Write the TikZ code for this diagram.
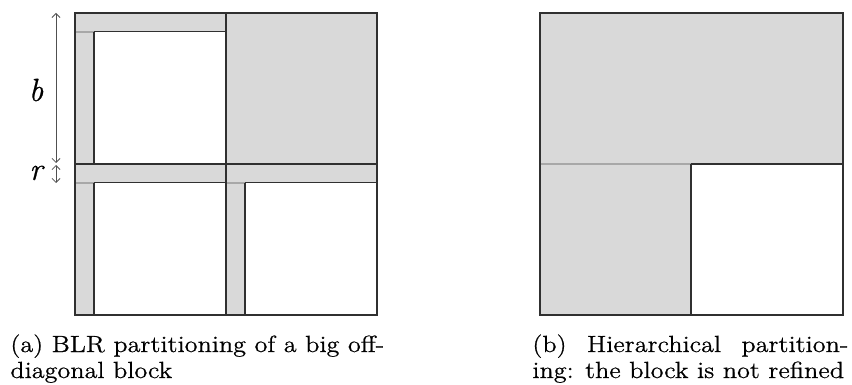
\documentclass[tikz,border=0pt]{standalone}
\usepackage{fontspec}
\setmainfont{Latin Modern Roman}[FakeStretch=1.12, FakeBold=0.6]
\newfontfamily\labelfont{Latin Modern Roman}[FakeBold=0.8]
\usetikzlibrary{arrows.meta}
\definecolor{blockgray}{HTML}{D9D9D9}
\definecolor{darkline}{HTML}{303030}
\definecolor{lightline}{HTML}{A8A8A8}
\definecolor{arrowcol}{HTML}{505050}
\tikzset{
  grayblock/.style={fill=blockgray, draw=darkline, line width=0.5pt},
  softline/.style={draw=lightline, line width=0.6pt},
  dimarrow/.style={draw=arrowcol, line width=0.4pt, {Straight Barb[length=2pt,width=4pt]}-{Straight Barb[length=2pt,width=4pt]}},
  captext/.style={anchor=base west, inner sep=0pt, font=\fontsize{11.7}{13.25}\selectfont},
  dimlabel/.style={inner sep=0pt, font=\fontsize{16}{18}\selectfont\labelfont\itshape}
}
\begin{document}
\begin{tikzpicture}[x=0.5pt, y=-0.5pt]
\useasboundingbox (0,0) rectangle (852,385);
% ---------- (a) BLR partitioning ----------
% top-left block
\draw[grayblock] (75,13) rectangle (226,164);
\fill[white] (94,32) rectangle (226,164);
\draw[softline] (75,32) -- (94,32);
\draw[darkline, line width=0.5pt] (94,32) -- (226,32);
\draw[darkline, line width=0.6pt] (94,32) -- (94,164);
% top-right block
\draw[grayblock] (226,13) rectangle (377,164);
% bottom-left block
\draw[grayblock] (75,164) rectangle (226,315);
\fill[white] (94,183) rectangle (226,315);
\draw[softline] (75,183) -- (94,183);
\draw[darkline, line width=0.5pt] (94,183) -- (226,183);
\draw[darkline, line width=0.6pt] (94,183) -- (94,315);
% bottom-right block
\draw[grayblock] (226,164) rectangle (377,315);
\fill[white] (245,183) rectangle (377,315);
\draw[softline] (226,183) -- (245,183);
\draw[darkline, line width=0.5pt] (245,183) -- (377,183);
\draw[darkline, line width=0.6pt] (245,183) -- (245,315);
% outer frame and middle lines
\draw[darkline, line width=0.6pt] (75,13) rectangle (377,315);
\draw[darkline, line width=0.6pt] (75,164) -- (377,164);
\draw[darkline, line width=0.6pt] (226,13) -- (226,315);
% dimension arrows
\coordinate (btop) at (56,13);
\coordinate (bbot) at (56,163);
\coordinate (rtop) at (56,165);
\coordinate (rbot) at (56,183);
\draw[dimarrow] (btop) -- (bbot);
\draw[dimarrow] (rtop) -- (rbot);
\node[dimlabel] (blab) at (36,90) {b};
\node[dimlabel] (rlab) at (36,173) {r};
% ---------- (b) Hierarchical partitioning ----------
\fill[blockgray] (540,13) rectangle (843,315);
\fill[white] (691,164) rectangle (843,315);
\draw[softline, line width=0.8pt] (540,164) -- (691,164);
\draw[darkline, line width=0.6pt] (691,164) -- (843,164);
\draw[darkline, line width=0.6pt] (691,164) -- (691,315);
\draw[darkline, line width=0.6pt] (540,13) rectangle (843,315);
% ---------- captions ----------
\node[captext] (capa1) at (10,352) {(a) BLR partitioning of a big off-};
\node[captext] (capa2) at (10,378) {diagonal block};
\node[captext] (capb1) at (532,352) {\makebox[158pt][s]{(b) Hierarchical partition-}};
\node[captext] (capb2) at (532,378) {ing: the block is not refined};
\end{tikzpicture}
\end{document}
